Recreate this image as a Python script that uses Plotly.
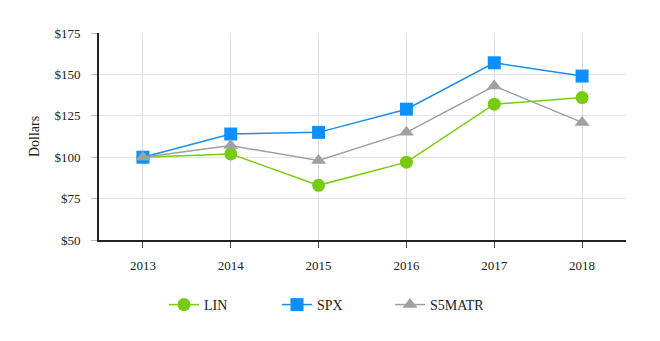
import plotly.graph_objects as go

years = ["2013", "2014", "2015", "2016", "2017", "2018"]
lin = [100, 102, 83, 97, 132, 136]
spx = [100, 114, 115, 129, 157, 149]
s5matr = [100, 107, 98, 115, 143, 121]
y_ticks = [50, 75, 100, 125, 150, 175]
y_labels = ["$50", "$75", "$100", "$125", "$150", "$175"]

SERIF = "Liberation Serif, Times New Roman, serif"

fig = go.Figure()
fig.add_trace(go.Scatter(x=years, y=lin, name="LIN", mode="lines+markers",
                         line=dict(color="#77cc11", width=1.5),
                         marker=dict(symbol="circle", size=13, color="#77cc11")))
fig.add_trace(go.Scatter(x=years, y=spx, name="SPX", mode="lines+markers",
                         line=dict(color="#1a8fef", width=1.5),
                         marker=dict(symbol="square", size=13, color="#0a90ff")))
fig.add_trace(go.Scatter(x=years, y=s5matr, name="S5MATR", mode="lines+markers",
                         line=dict(color="#a0a0a0", width=1.5),
                         marker=dict(symbol="triangle-up", size=13, color="#a0a0a0")))

fig.update_layout(
    width=660, height=341,
    margin=dict(l=99, r=34, t=33, b=101, autoexpand=False),
    paper_bgcolor="white", plot_bgcolor="white",
    font=dict(family=SERIF, size=13, color="#222"),
    showlegend=True,
    legend=dict(orientation="h", x=0.445, xanchor="center",
                y=-0.314, yanchor="middle",
                font=dict(family=SERIF, size=14, color="#222"),
                entrywidth=68, entrywidthmode="pixels", traceorder="normal"),
    xaxis=dict(type="category", range=[-0.5, 5.5], showline=True, linecolor="#222",
               linewidth=2, ticks="outside", ticklen=6, tickcolor="#444",
               showgrid=True, gridcolor="#dddddd", gridwidth=1, zeroline=False,
               ticklabelstandoff=6, tickangle=0,
               tickfont=dict(family=SERIF, size=13)),
    yaxis=dict(range=[50, 175], tickvals=y_ticks, ticktext=y_labels, showline=True,
               linecolor="#222", linewidth=2, ticks="outside", ticklen=6, tickcolor="#bbb",
               showgrid=True, gridcolor="#e6e6e6", gridwidth=1, zeroline=False,
               ticklabelstandoff=8,
               title=dict(text="Dollars", font=dict(family=SERIF, size=14), standoff=12),
               tickfont=dict(family=SERIF, size=13)),
)

fig.write_html("out.html")
